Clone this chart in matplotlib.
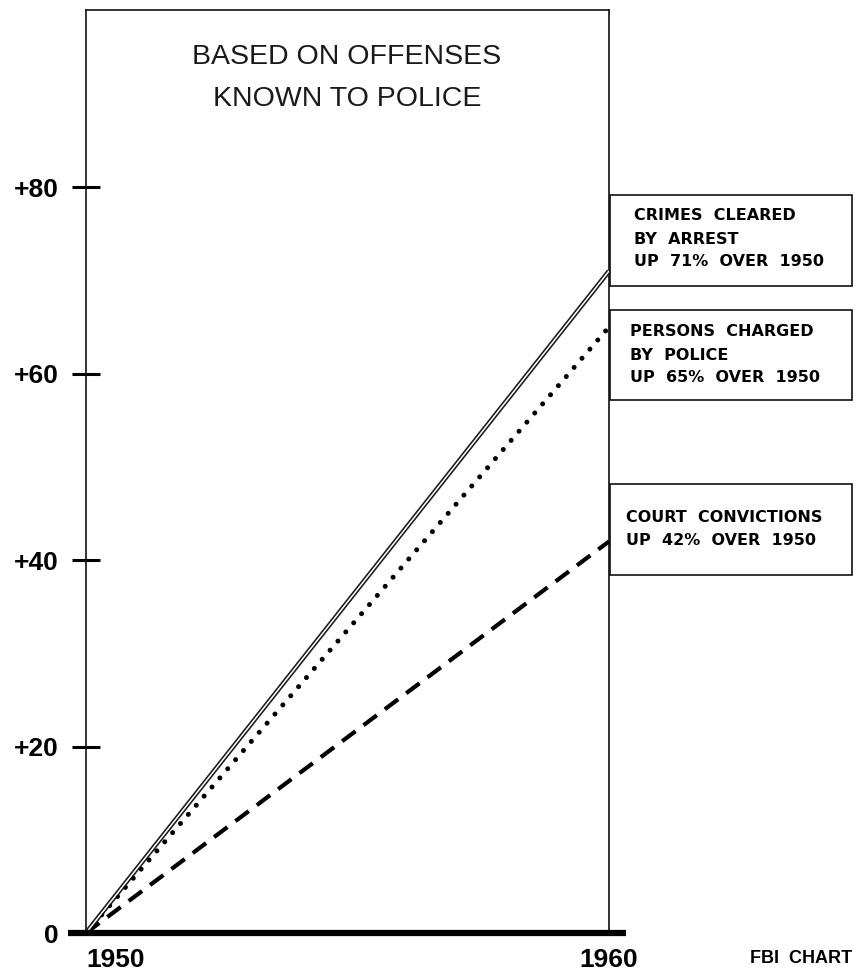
import matplotlib
matplotlib.use("Agg")
import matplotlib.pyplot as plt
from matplotlib.patches import Rectangle

# ---- data ----
years = [1950, 1960]
crimes_cleared = [0, 71]
persons_charged = [0, 65]
court_convictions = [0, 42]
ytick_values = [0, 20, 40, 60, 80]
ytick_labels = ["0", "+20", "+40", "+60", "+80"]
xtick_labels = ["1950", "1960"]
title_lines = ["BASED ON OFFENSES", "KNOWN TO POLICE"]
box_crimes = ["CRIMES  CLEARED", "BY  ARREST", "UP  71%  OVER  1950"]
box_persons = ["PERSONS  CHARGED", "BY  POLICE", "UP  65%  OVER  1950"]
box_court = ["COURT  CONVICTIONS", "UP  42%  OVER  1950"]

W, H = 856, 972
fig = plt.figure(figsize=(W / 100, H / 100), dpi=100)
fig.patch.set_facecolor("white")

def fx(px):
    return px / W

def fy(py):
    return 1 - py / H

ax_l, ax_r, ax_t, ax_b = 86, 609, 10, 933
ax = fig.add_axes([fx(ax_l), fy(ax_b), (ax_r - ax_l) / W, (ax_b - ax_t) / H])
ax.set_xlim(years[0], years[-1])
ax.set_ylim(0, 99)
ax.set_facecolor("white")

for s in ["left", "top", "right"]:
    ax.spines[s].set_linewidth(1.2)
    ax.spines[s].set_color("#111111")
ax.spines["bottom"].set_visible(False)

# thick baseline
span = years[-1] - years[0]
ppx = span / (ax_r - ax_l)
ax.plot([years[0] - 18 * ppx, years[-1] + 17 * ppx], [0, 0], color="black",
        lw=4.5, solid_capstyle="butt", clip_on=False, zorder=5)

# series
ax.plot(years, crimes_cleared, color="#1a1a1a", lw=3.4, solid_capstyle="butt", zorder=3)
ax.plot(years, crimes_cleared, color="white", lw=1.1, solid_capstyle="butt", zorder=4)
ax.plot(years, persons_charged, color="black", lw=3.6, linestyle=(0, (0.01, 2.4)),
        dash_capstyle="round", zorder=3)
ax.plot(years, court_convictions, color="black", lw=3.0, linestyle=(0, (4.0, 2.4)),
        dash_capstyle="butt", zorder=3)

# ticks
bold = dict(family="Liberation Sans", weight="bold")
ax.set_yticks(ytick_values)
ax.set_yticklabels(ytick_labels, fontsize=19, **bold)
ax.tick_params(axis="y", direction="inout", length=19.5, width=2.2, pad=10, colors="black")
ax.yaxis.get_major_ticks()[0].tick1line.set_visible(False)

ax.set_xticks(years)
ax.set_xticklabels(xtick_labels, fontsize=19, **bold)
ax.tick_params(axis="x", length=0, pad=11)
ax.get_xticklabels()[0].set_horizontalalignment("left")

# title
for i, line in enumerate(title_lines):
    fig.text(fx(347), fy(57 + 42 * i), line, ha="center", va="center",
             fontsize=20.5, family="Liberation Sans", color="#1a1a1a")

# label boxes
def draw_box(y0, y1, lines, x_text, y_first):
    fig.add_artist(Rectangle((fx(610), fy(y1)), (852 - 610) / W, (y1 - y0) / H,
                             transform=fig.transFigure, facecolor="white",
                             edgecolor="#111111", lw=1.2, zorder=10))
    for i, line in enumerate(lines):
        fig.text(fx(x_text), fy(y_first + 23 * i), line, ha="left", va="center",
                 fontsize=11.5, family="DejaVu Sans", weight="bold", zorder=11)

draw_box(195, 286, box_crimes, 634, 216)
draw_box(310, 400, box_persons, 630, 332)
draw_box(484, 575, box_court, 626, 517)

fig.text(fx(852), fy(958), "FBI  CHART", ha="right", va="center", fontsize=13,
         family="Liberation Sans", weight="bold")

fig.savefig("out.png", dpi=100, facecolor="white")
